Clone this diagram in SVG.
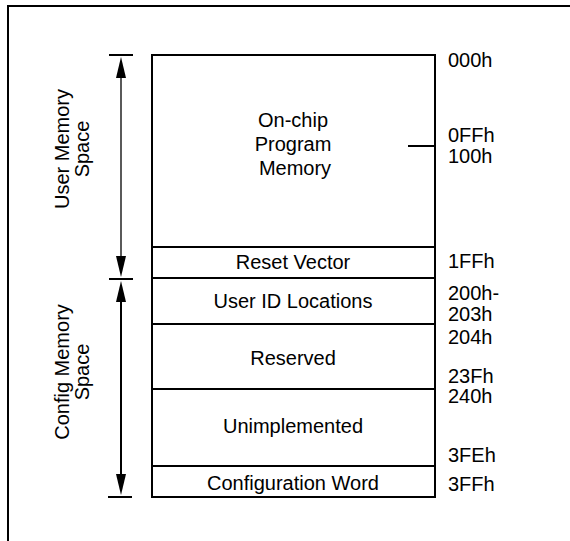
<svg xmlns="http://www.w3.org/2000/svg" width="570" height="541" viewBox="0 0 570 541">
<style>
text{font-family:"Liberation Sans",Arial,sans-serif;font-size:20px;fill:#000}
.c{text-anchor:middle}
.ln{stroke:#000;stroke-width:2;fill:none}
.thin{stroke:#000;stroke-width:1.3;fill:none}
.box{stroke:#000;stroke-width:2;fill:#fff}
</style>
<defs>
<polygon id="up" points="0,0 -5,21 5,21" fill="#000"/>
<polygon id="dn" points="0,0 -5,-21 5,-21" fill="#000"/>
</defs>
<rect width="570" height="541" fill="#fff"/>
<path class="ln" d="M8,541 V6 H570"/>
<g id="program-memory">
<rect class="box" x="152" y="55" width="283" height="192"/>
<text class="c" x="293" y="127">On-chip</text>
<text class="c" x="293" y="151">Program</text>
<text class="c" x="295" y="175">Memory</text>
</g>
<g id="reset-vector">
<rect class="box" x="152" y="247" width="283" height="31"/>
<text class="c" x="293" y="269">Reset Vector</text>
</g>
<g id="user-id">
<rect class="box" x="152" y="278" width="283" height="46"/>
<text class="c" x="293" y="308">User ID Locations</text>
</g>
<g id="reserved">
<rect class="box" x="152" y="324" width="283" height="65"/>
<text class="c" x="293" y="365">Reserved</text>
</g>
<g id="unimplemented">
<rect class="box" x="152" y="389" width="283" height="77"/>
<text class="c" x="293" y="433">Unimplemented</text>
</g>
<g id="config-word">
<rect class="box" x="152" y="466" width="283" height="31"/>
<text class="c" x="293" y="490">Configuration Word</text>
</g>
<g id="addresses">
<text x="448" y="67">000h</text>
<text x="448" y="142">0FFh</text>
<text x="448" y="163">100h</text>
<text x="448" y="268">1FFh</text>
<text x="448" y="300">200h-</text>
<text x="448" y="321">203h</text>
<text x="448" y="344">204h</text>
<text x="448" y="383">23Fh</text>
<text x="448" y="403">240h</text>
<text x="448" y="462">3FEh</text>
<text x="448" y="491">3FFh</text>
</g>
<g id="space-labels">
<text class="c" transform="translate(69,149) rotate(-90)">User Memory</text>
<text class="c" transform="translate(89,149) rotate(-90)">Space</text>
<text class="c" transform="translate(69,372) rotate(-90)">Config Memory</text>
<text class="c" transform="translate(89,372) rotate(-90)">Space</text>
</g>
<g id="connectors">
<line class="ln" x1="408" y1="146" x2="435" y2="146"/>
<line class="ln" x1="109" y1="55" x2="133" y2="55"/>
<line class="ln" x1="109" y1="279" x2="133" y2="279"/>
<line class="ln" x1="108" y1="497" x2="132" y2="497"/>
<line class="thin" x1="121" y1="70" x2="121" y2="264"/>
<line class="ln" x1="121" y1="294" x2="121" y2="482"/>
<use href="#up" x="121" y="57"/>
<use href="#dn" x="121" y="277"/>
<use href="#up" x="121" y="281"/>
<use href="#dn" x="121" y="495"/>
</g>
</svg>
